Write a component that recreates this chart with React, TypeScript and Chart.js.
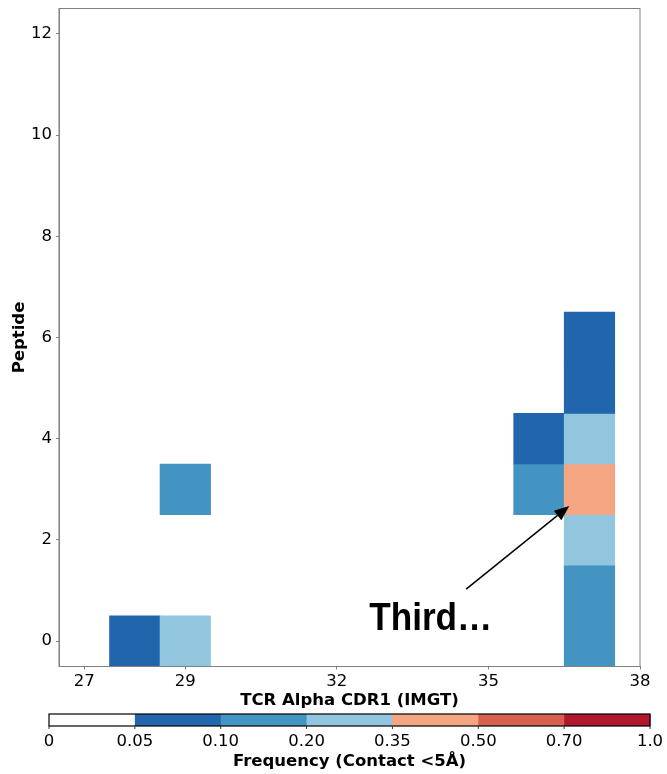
import React, { useEffect, useRef } from 'react';
import { Chart, registerables } from 'chart.js';

Chart.register(...registerables);

// ---- data ----
const cellX = [28, 29, 29, 36, 36, 37, 37, 37, 37, 37, 37, 37];
const cellY = [0, 0, 3, 3, 4, 0, 1, 2, 3, 4, 5, 6];
const cellFreq = [0.08, 0.27, 0.15, 0.15, 0.08, 0.15, 0.15, 0.27, 0.42, 0.27, 0.08, 0.08];

const binEdges = [0, 0.05, 0.1, 0.2, 0.35, 0.5, 0.7, 1.0];
const binLabels = ['0', '0.05', '0.10', '0.20', '0.35', '0.50', '0.70', '1.0'];
const binColors = ['#ffffff', '#2166ac', '#4393c3', '#92c5de', '#f4a582', '#d6604d', '#b2182b'];

const xTicks = [27, 29, 32, 35, 38];
const yTicks = [0, 2, 4, 6, 8, 10, 12];
const xRange = [26.5, 38];
const yRange = [-0.5, 12.5];

const xTitle = 'TCR Alpha CDR1 (IMGT)';
const yTitle = 'Peptide';
const cbarTitle = 'Frequency (Contact <5Å)';
const noteText = 'Third…';
const noteTip = [36.6, 2.67];
const noteTail = [34.56, 1.03];
const noteTextPos = [32.64, 0.22];

const FONT = "'DejaVu Sans', sans-serif";
const W = 667;
const H = 774;

function colorFor(v: number): string {
  for (let i = 0; i < binColors.length; i++) {
    if (v >= binEdges[i] && v < binEdges[i + 1]) return binColors[i];
  }
  return binColors[binColors.length - 1];
}

const framePlugin = {
  id: 'frame',
  afterDraw(chart: any) {
    const { ctx, chartArea: a } = chart;
    ctx.save();
    ctx.strokeStyle = '#808080';
    ctx.lineWidth = 1;
    ctx.strokeRect(a.left, a.top, a.right - a.left, a.bottom - a.top);
    ctx.restore();
  },
};

const annotationPlugin = {
  id: 'note',
  afterDraw(chart: any) {
    const { ctx, scales } = chart;
    const xs = scales.x, ys = scales.y;
    const tx = xs.getPixelForValue(noteTip[0]);
    const ty = ys.getPixelForValue(noteTip[1]);
    const sx = xs.getPixelForValue(noteTail[0]);
    const sy = ys.getPixelForValue(noteTail[1]);
    const ang = Math.atan2(ty - sy, tx - sx);
    const headLen = 15;
    const headHalf = 6;
    const bx = tx - headLen * Math.cos(ang);
    const by = ty - headLen * Math.sin(ang);
    ctx.save();
    ctx.strokeStyle = '#000';
    ctx.fillStyle = '#000';
    ctx.lineWidth = 1.5;
    ctx.beginPath();
    ctx.moveTo(sx, sy);
    ctx.lineTo(bx, by);
    ctx.stroke();
    ctx.beginPath();
    ctx.moveTo(tx, ty);
    ctx.lineTo(bx + headHalf * Math.sin(ang), by - headHalf * Math.cos(ang));
    ctx.lineTo(bx - headHalf * Math.sin(ang), by + headHalf * Math.cos(ang));
    ctx.closePath();
    ctx.fill();
    const px = xs.getPixelForValue(noteTextPos[0]);
    const py = ys.getPixelForValue(noteTextPos[1]);
    ctx.font = "bold 38px 'Liberation Sans', Arial, sans-serif";
    ctx.textBaseline = 'alphabetic';
    ctx.textAlign = 'left';
    const w = ctx.measureText(noteText).width;
    const targetW = 123;
    ctx.translate(px, py);
    ctx.scale(targetW / w, 1);
    ctx.fillText(noteText, 0, 0);
    ctx.restore();
  },
};

const colorbarPlugin = {
  id: 'cbar',
  afterDraw(chart: any) {
    const { ctx } = chart;
    const left = 49, right = 650, top = 714, bottom = 726;
    const n = binColors.length;
    const segW = (right - left) / n;
    ctx.save();
    for (let i = 0; i < n; i++) {
      ctx.fillStyle = binColors[i];
      ctx.fillRect(left + i * segW, top, segW + 0.5, bottom - top);
    }
    ctx.strokeStyle = '#000';
    ctx.lineWidth = 1.2;
    ctx.strokeRect(left, top, right - left, bottom - top);
    ctx.lineWidth = 1;
    ctx.strokeStyle = '#333';
    ctx.fillStyle = '#000';
    ctx.font = `16.5px ${FONT}`;
    ctx.textAlign = 'center';
    ctx.textBaseline = 'alphabetic';
    for (let i = 0; i <= n; i++) {
      const x = left + i * segW;
      ctx.beginPath();
      ctx.moveTo(x, bottom);
      ctx.lineTo(x, bottom + 3);
      ctx.stroke();
      ctx.fillText(binLabels[i], x, 746);
    }
    ctx.font = `bold 16.5px ${FONT}`;
    ctx.fillText(cbarTitle, (left + right) / 2, 766);
    ctx.restore();
  },
};

export default function App() {
  const ref = useRef<HTMLCanvasElement | null>(null);
  useEffect(() => {
    if (!ref.current) return;
    Chart.defaults.font.family = FONT;
    const chart = new Chart(ref.current, {
      type: 'bar',
      data: {
        datasets: [
          {
            data: cellX.map((x, i) => ({ x, y: [cellY[i] - 0.5, cellY[i] + 0.5] })) as any,
            backgroundColor: cellFreq.map(colorFor),
            borderWidth: 0,
            barPercentage: 1,
            categoryPercentage: 1,
            grouped: false,
          } as any,
        ],
      },
      options: {
        animation: false,
        responsive: false,
        layout: { padding: { left: 0, right: 27, top: 8.5, bottom: 57.5 } },
        plugins: { legend: { display: false }, tooltip: { enabled: false } },
        scales: {
          x: {
            type: 'linear',
            min: xRange[0],
            max: xRange[1],
            offset: false,
            grid: { display: true, drawOnChartArea: false, drawTicks: true, tickLength: 3, color: '#808080', offset: false },
            border: { display: true, color: '#808080' },
            ticks: { font: { size: 16.5 }, color: '#000', padding: 2, autoSkip: false, maxRotation: 0 },
            afterBuildTicks: (s: any) => {
              s.ticks = xTicks.map((v) => ({ value: v }));
            },
            afterFit: (s: any) => {
              s.height = 50;
              s.paddingLeft = 0;
              s.paddingRight = 0;
            },
            title: {
              display: true,
              text: xTitle,
              font: { size: 16.5, weight: 'bold' },
              color: '#000',
              padding: { top: 0, bottom: 6 },
            },
          } as any,
          y: {
            type: 'linear',
            min: yRange[0],
            max: yRange[1],
            grid: { display: true, drawOnChartArea: false, drawTicks: true, tickLength: 3, color: '#808080' },
            border: { display: true, color: '#808080' },
            ticks: { font: { size: 16.5 }, color: '#000', padding: 4, autoSkip: false },
            afterBuildTicks: (s: any) => {
              s.ticks = yTicks.map((v) => ({ value: v }));
            },
            afterFit: (s: any) => {
              s.width = 59;
              s.paddingTop = 0;
              s.paddingBottom = 0;
            },
            title: {
              display: true,
              text: yTitle,
              font: { size: 16.5, weight: 'bold' },
              color: '#000',
              padding: { top: 9.6, bottom: 0 },
            },
          } as any,
        },
      },
      plugins: [framePlugin, annotationPlugin, colorbarPlugin],
    });
    return () => chart.destroy();
  }, []);
  return (
    <canvas
      ref={ref}
      width={W}
      height={H}
      style={{ display: 'block', position: 'absolute', left: 0, top: 0 }}
    />
  );
}
